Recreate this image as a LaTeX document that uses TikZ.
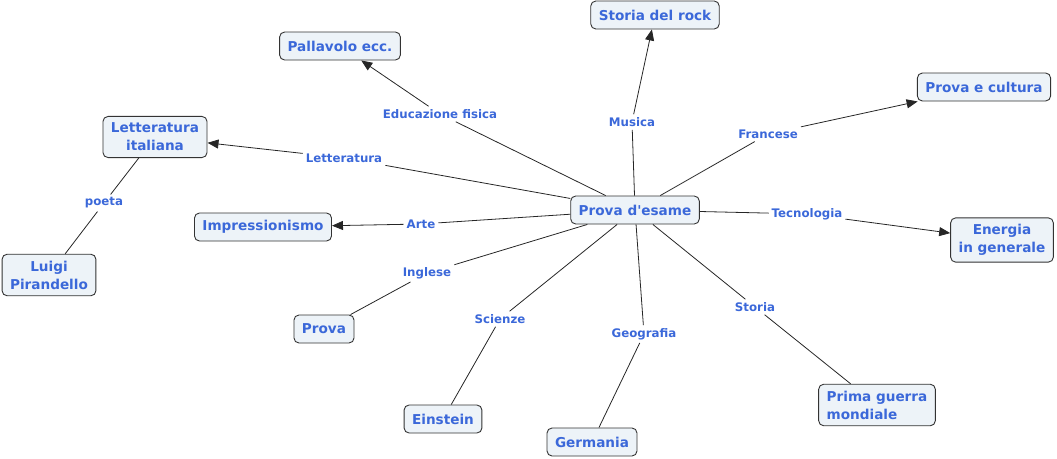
\documentclass[tikz,border=0pt]{standalone}
\usepackage{fontspec}
\setmainfont{DejaVu Sans}[Ligatures=TeXOff]
\usetikzlibrary{arrows.meta}
\definecolor{txt}{HTML}{3B68D9}
\definecolor{nfill}{HTML}{EDF3F8}
\begin{document}
\begin{tikzpicture}[x=1pt,y=-1pt,
 concept/.style={draw=black!80, fill=nfill, rounded corners=5pt, text=txt,
   font=\fontsize{13.6}{18}\selectfont\bfseries, inner xsep=8pt, inner ysep=6.5pt,
   align=center, line width=0.9pt, minimum height=28pt},
 lbl/.style={text=txt, font=\fontsize{11.8}{13}\selectfont\bfseries, inner sep=3pt},
 link/.style={draw=black!85, line width=0.8pt},
 arr/.style={link, -{Triangle[length=11pt,width=9pt]}}]
\useasboundingbox (0,0) rectangle (1057,458);

\node[concept] (main) at (635,210) {Prova d'esame};
\node[concept] (rock) at (655,15) {Storia del rock};
\node[concept] (pal) at (340,46) {Pallavolo ecc.};
\node[concept] (cult) at (984,87) {Prova e cultura};
\node[concept] (lett) at (155,137) {Letteratura\\italiana};
\node[concept] (imp) at (263,227) {Impressionismo};
\node[concept] (ener) at (1002,240) {Energia\\in generale};
\node[concept] (luigi) at (49,275) {Luigi\\Pirandello};
\node[concept] (prova) at (324,329) {Prova};
\node[concept] (ein) at (443,419) {Einstein};
\node[concept] (ger) at (592,442) {Germania};
\node[concept, align=left] (pgm) at (877,405) {Prima guerra\\mondiale};

\node[lbl] (ledu) at (440,114) {Educazione fisica};
\node[lbl] (lmus) at (632,122) {Musica};
\node[lbl] (lfra) at (768,134) {Francese};
\node[lbl] (llet) at (344,158) {Letteratura};
\node[lbl] (lart) at (421,224) {Arte};
\node[lbl] (ltec) at (807,214) {Tecnologia};
\node[lbl] (ling) at (427,273) {Inglese};
\node[lbl] (lsci) at (500,319) {Scienze};
\node[lbl] (lgeo) at (644,334) {Geografia};
\node[lbl] (lsto) at (755,307) {Storia};
\node[lbl] (lpoe) at (104,203) {poeta};

\draw[link] (main) -- (ledu); \draw[arr] (ledu) -- (pal);
\draw[link] (main) -- (lmus); \draw[arr] (lmus) -- (rock);
\draw[link] (main) -- (lfra); \draw[arr] (lfra) -- (cult);
\draw[link] (main) -- (llet); \draw[arr] (llet) -- (lett);
\draw[link] (main) -- (lart); \draw[arr] (lart) -- (imp);
\draw[link] (main) -- (ltec); \draw[arr] (ltec) -- (ener);
\draw[link] (main) -- (ling); \draw[link] (ling) -- (prova);
\draw[link] (main) -- (lsci); \draw[link] (lsci) -- (ein);
\draw[link] (main) -- (lgeo); \draw[link] (lgeo) -- (ger);
\draw[link] (main) -- (lsto); \draw[link] (lsto) -- (pgm);
\draw[link] (lett) -- (lpoe); \draw[link] (lpoe) -- (luigi);
\end{tikzpicture}
\end{document}
